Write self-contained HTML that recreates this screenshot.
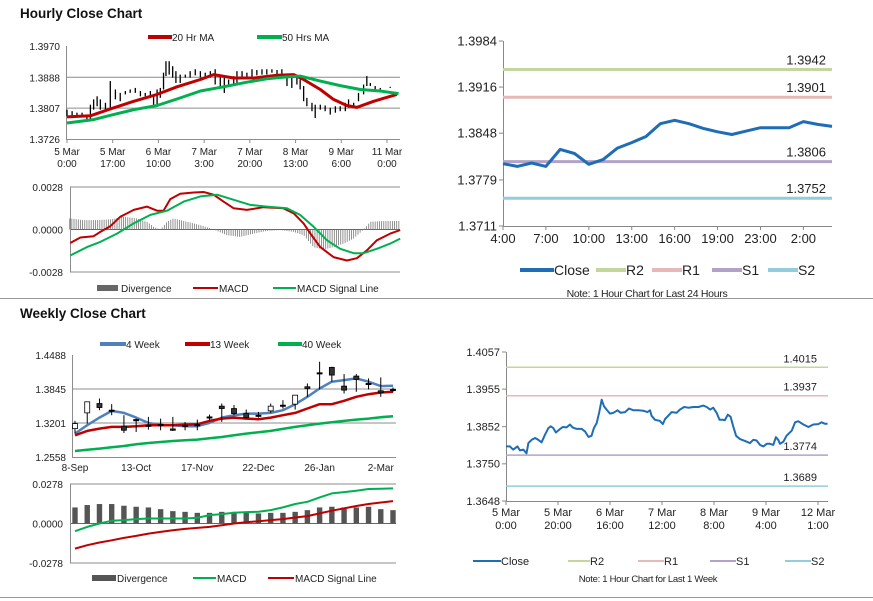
<!DOCTYPE html>
<html><head><meta charset="utf-8"><style>
html,body{margin:0;padding:0;background:#fff;}
svg{display:block;font-family:"Liberation Sans",sans-serif;}
</style></head><body>
<svg id="s" width="873" height="601" viewBox="0 0 873 601" xmlns="http://www.w3.org/2000/svg">
<text x="20" y="18" font-size="13.5" font-weight="bold" fill="#111">Hourly Close Chart</text>
<text x="20" y="318" font-size="13.5" font-weight="bold" fill="#111">Weekly Close Chart</text>
<line x1="0" y1="298.5" x2="873" y2="298.5" stroke="#999"/>
<line x1="0" y1="597.5" x2="873" y2="597.5" stroke="#999"/>
<g id="tl"></g>
<g id="tlm"></g>
<g id="tr"></g>
<g id="bl"></g>
<g id="blm"></g>
<g id="br"></g>
</svg>
<script>
// ---------- DATA ----------
// Hourly candles (hours since 5 Mar 0:00), high/low
const hcHours=[0,1.9,3.7,5.6,7.4,8.7,9.9,11.2,12.4,14.3,16.1,18,19.8,21.7,23.5,25.4,27.3,29.1,31,32.2,33.5,34.7,35.9,36.8,38,39.3,40.5,42.1,44,45.8,47.7,49.6,51.4,53.3,55.1,57,58.5,60.1,62,63.2,65.1,66.9,68.8,70.6,72.5,74.3,76.2,78.1,79.9,81.8,83.6,85.5,86.7,88,89.2,91.1,92.3,94.2,96,97.9,99.8,101.6,103.5,104.7,106.6,108.4,110.3,111.5,112.8,114.6,116.5,118.3,120.2,122.1];
const hcHigh=[1.3803,1.3799,1.3795,1.3795,1.3790,1.3816,1.3830,1.3838,1.3830,1.3821,1.3878,1.3856,1.3847,1.3852,1.3856,1.3860,1.3852,1.3847,1.3852,1.3843,1.3856,1.3860,1.3900,1.3930,1.3930,1.3917,1.3904,1.3895,1.3895,1.3904,1.3909,1.3904,1.3900,1.3904,1.3909,1.3895,1.3887,1.3882,1.3891,1.3904,1.3904,1.3900,1.3909,1.3907,1.3909,1.3909,1.3909,1.3907,1.3909,1.3895,1.3891,1.3895,1.3882,1.3865,1.3834,1.3821,1.3816,1.3816,1.3814,1.3808,1.3812,1.3812,1.3821,1.3830,1.3821,1.3847,1.3869,1.3891,1.3873,1.3865,1.3860,1.3860,1.3863,1.3860];
const hcLow=[1.3786,1.3786,1.3786,1.3784,1.3777,1.3773,1.3803,1.3812,1.3803,1.3803,1.3808,1.3830,1.3825,1.3843,1.3847,1.3847,1.3838,1.3838,1.3834,1.3812,1.3812,1.3834,1.3856,1.3891,1.3895,1.3887,1.3873,1.3873,1.3887,1.3887,1.3893,1.3887,1.3887,1.3887,1.3869,1.3860,1.3847,1.3865,1.3865,1.3869,1.3887,1.3887,1.3887,1.3893,1.3895,1.3895,1.3900,1.3895,1.3887,1.3865,1.3860,1.3869,1.3856,1.3825,1.3812,1.3799,1.3781,1.3803,1.3799,1.3790,1.3795,1.3799,1.3799,1.3808,1.3812,1.3825,1.3843,1.3865,1.3865,1.3856,1.3856,1.3860,1.3860,1.3860];
const ma20Hours=[0,8.7,16.1,24.8,33.5,40.9,49.6,54.5,62,69.4,78.1,84.3,88,94.2,99.1,104,107.8,114,122.7];
const ma20Vals=[1.3784,1.3787,1.3805,1.3825,1.3843,1.3863,1.3882,1.3895,1.3886,1.3886,1.3893,1.3895,1.3882,1.3856,1.3830,1.3814,1.3809,1.3825,1.3843];
const ma50Hours=[0,9.9,17.3,24.8,33.5,40.9,49.6,58.2,66.9,74.3,81.8,86.7,94.2,101.6,109.1,116.5,123.3];
const ma50Vals=[1.3768,1.3777,1.3790,1.3803,1.3814,1.3831,1.3852,1.3863,1.3875,1.3884,1.3889,1.3891,1.3878,1.3866,1.3856,1.3852,1.3845];
const hTickLabels=[["5 Mar","0:00"],["5 Mar","17:00"],["6 Mar","10:00"],["7 Mar","3:00"],["7 Mar","20:00"],["8 Mar","13:00"],["9 Mar","6:00"],["11 Mar","0:00"]];
const hPriceTicks=[1.3970,1.3888,1.3807,1.3726];
// Hourly MACD
const hMacdHours=[1.2,5,9.9,12.4,16.1,19.8,24.8,29.7,33.5,35.9,38.4,42.1,47.1,50.8,54.5,58.2,62,66.9,73.1,80.5,84.3,88,90.5,94.2,99.1,104.1,107.8,111.5,115.2,120.2,123.9];
const hMacdVals=[-0.00089,-0.00053,-0.00044,-0.00016,0.00022,0.00084,0.00129,0.00151,0.00124,0.00124,0.00200,0.00236,0.00244,0.00247,0.00229,0.00184,0.00140,0.00129,0.00147,0.00140,0.00107,0.00040,-0.00027,-0.00116,-0.00182,-0.00204,-0.00189,-0.00138,-0.00071,-0.00027,-0.00004];
const hSigHours=[1.2,7.4,12.4,18.6,24.8,31,37.2,43.4,49.6,55.8,62,68.2,74.3,81.8,86.7,91.7,96.7,101.6,106.6,110.3,115.2,120.2,123.9];
const hSigVals=[-0.00171,-0.00116,-0.00082,-0.00027,0.00040,0.00096,0.00124,0.00184,0.00218,0.00229,0.00196,0.00162,0.00151,0.00140,0.00096,0.00018,-0.00071,-0.00127,-0.00156,-0.00156,-0.00127,-0.00093,-0.00060];
const hDivHours=[1.2,6.2,11.2,16.1,21.1,26,29.7,32.2,34.7,37.2,39.6,44.6,49.6,54.5,59.5,64.4,69.4,74.3,79.3,84.3,88,91.7,95.4,99.1,102.8,106.6,110.3,112.8,117.7,123.3];
const hDivVals=[0.00073,0.00062,0.00062,0.00067,0.00084,0.00073,0.00051,0.00018,0,0.00051,0.00073,0.00051,0.00029,0,-0.00038,-0.00049,-0.00027,-0.00009,-0.00004,-0.00016,-0.00038,-0.00116,-0.00133,-0.00116,-0.00093,-0.00060,0,0.00051,0.00056,0.00056];
const hMacdTicks=[0.0028,0,-0.0028];
// 24h pivot chart
const dayLabels=["4:00","7:00","10:00","13:00","16:00","19:00","23:00","2:00"];
const dayClose=[1.3803,1.3799,1.3804,1.3799,1.3824,1.3818,1.3802,1.3809,1.3826,1.3834,1.3843,1.3862,1.3867,1.3862,1.3855,1.3850,1.3846,1.3851,1.3856,1.3856,1.3856,1.3865,1.3861,1.3858];
const dayLevelNames=["R2","R1","S1","S2"];
const dayLevels=[1.3942,1.3901,1.3806,1.3752];
const dayTicks=[1.3984,1.3916,1.3848,1.3779,1.3711];
// Weekly candles
const wkLabels=["8-Sep","13-Oct","17-Nov","22-Dec","26-Jan","2-Mar"];
const wkOpen=[1.3095,1.3393,1.3570,1.3444,1.3140,1.3266,1.3159,1.3178,1.3089,1.3159,1.3171,1.3317,1.3520,1.3475,1.3380,1.3349,1.3431,1.3539,1.3558,1.3887,1.4152,1.4254,1.3899,1.4089,1.3950,1.3811,1.3836];
const wkClose=[1.3190,1.3602,1.3494,1.3444,1.3064,1.3266,1.3159,1.3178,1.3064,1.3159,1.3171,1.3317,1.3475,1.3380,1.3304,1.3349,1.3520,1.3539,1.3728,1.3855,1.4152,1.4108,1.3823,1.4026,1.3950,1.3773,1.3836];
const wkHigh=[1.3241,1.3602,1.3665,1.3558,1.3349,1.3285,1.3317,1.3285,1.3317,1.3222,1.3266,1.3361,1.3570,1.3539,1.3456,1.3412,1.3570,1.3633,1.3728,1.3950,1.4361,1.4266,1.4127,1.4127,1.4045,1.4064,1.3874];
const wkLow=[1.3000,1.3190,1.3444,1.3349,1.3013,1.3032,1.3076,1.3064,1.3051,1.3064,1.3064,1.3254,1.3222,1.3349,1.3285,1.3304,1.3393,1.3475,1.3456,1.3697,1.3836,1.3982,1.3760,1.3792,1.3836,1.3697,1.3792];
const wk4=[1.3000,1.3159,1.3304,1.3431,1.3393,1.3304,1.3203,1.3159,1.3159,1.3140,1.3140,1.3203,1.3304,1.3349,1.3380,1.3380,1.3393,1.3444,1.3558,1.3697,1.3855,1.3982,1.4013,1.4045,1.3982,1.3899,1.3906];
const wk13=[1.2969,1.3051,1.3095,1.3127,1.3127,1.3140,1.3159,1.3159,1.3159,1.3171,1.3178,1.3241,1.3285,1.3304,1.3285,1.3273,1.3304,1.3349,1.3393,1.3475,1.3558,1.3558,1.3621,1.3697,1.3747,1.3779,1.3792];
const wk40=[1.2671,1.2697,1.2716,1.2741,1.2766,1.2798,1.2823,1.2842,1.2861,1.2874,1.2887,1.2912,1.2937,1.2969,1.3000,1.3026,1.3051,1.3089,1.3127,1.3159,1.3190,1.3216,1.3241,1.3266,1.3285,1.3311,1.3330];
const wkPriceTicks=[1.4488,1.3845,1.3201,1.2558];
const wkDiv=[0.0113,0.0130,0.0137,0.0137,0.0125,0.0118,0.0113,0.0101,0.0087,0.0082,0.0075,0.0075,0.0082,0.0082,0.0082,0.0071,0.0075,0.0075,0.0082,0.0094,0.0113,0.0118,0.0113,0.0113,0.0118,0.0101,0.0094];
const wkMacd=[-0.0054,-0.0024,0,0.0019,0.0024,0.0031,0.0035,0.0035,0.0035,0.0035,0.0040,0.0059,0.0066,0.0075,0.0080,0.0082,0.0094,0.0113,0.0137,0.0153,0.0184,0.0212,0.0221,0.0231,0.0243,0.0245,0.0247];
const wkSig=[-0.0177,-0.0153,-0.0134,-0.0118,-0.0101,-0.0087,-0.0071,-0.0059,-0.0047,-0.0038,-0.0031,-0.0024,-0.0012,0,0.0009,0.0016,0.0024,0.0031,0.0042,0.0052,0.0071,0.0090,0.0106,0.0123,0.0137,0.0148,0.0158];
const wkMacdTicks=[0.0278,0,-0.0278];
// 1 week pivot chart
const wkLineLabels=[["5 Mar","0:00"],["5 Mar","20:00"],["6 Mar","16:00"],["7 Mar","12:00"],["8 Mar","8:00"],["9 Mar","4:00"],["12 Mar","1:00"]];
const wkLineHours=[0,1.5,2.2,2.8,4.4,5.4,6.7,7.9,8.6,9.9,11.2,12.4,13.7,15,16.3,17.2,18.2,19.2,20.5,21.8,23.3,24.6,25.6,27.2,29.1,30.4,31.7,32.9,33.8,34.9,35.8,36.8,37.7,38.7,40,41.3,42.9,44.1,45.8,47.3,49,50.9,52.8,54.4,55.4,56,57.3,59.2,60.3,61.2,62.4,63.7,65.6,66.9,68.5,70.1,72.1,74,75.9,77.2,78.5,79.7,81,82.1,83.3,84.2,85.3,86.4,87.4,88.5,90,91.9,93.8,95.1,96.4,97.7,99,100.3,101.5,102.8,103.8,104.7,105.4,106.7,107.9,109.9,111.2,112.4,114.4,116.3,118.2,120.1,121.4,122.7,123.7];
const wkLineClose=[1.3798,1.3798,1.3793,1.3789,1.3798,1.3787,1.3789,1.3779,1.3807,1.3816,1.3821,1.3816,1.3809,1.3830,1.3848,1.3853,1.3848,1.3836,1.3844,1.3851,1.3850,1.3858,1.3850,1.3846,1.3846,1.3839,1.3824,1.3827,1.3848,1.3862,1.3890,1.3926,1.3908,1.3899,1.3888,1.3890,1.3897,1.3890,1.3892,1.3902,1.3897,1.3897,1.3896,1.3892,1.3897,1.3882,1.3871,1.3868,1.3859,1.3873,1.3882,1.3892,1.3890,1.3899,1.3906,1.3904,1.3906,1.3906,1.3910,1.3906,1.3899,1.3904,1.3890,1.3871,1.3871,1.3870,1.3885,1.3879,1.3853,1.3827,1.3818,1.3813,1.3807,1.3816,1.3814,1.3802,1.3798,1.3805,1.3805,1.3802,1.3823,1.3816,1.3805,1.3811,1.3827,1.3841,1.3864,1.3867,1.3858,1.3851,1.3858,1.3859,1.3864,1.3860,1.3860];
const wkLevelNames=["R2","R1","S1","S2"];
const wkLevels=[1.4015,1.3937,1.3774,1.3689];
const wkLineTicks=[1.4057,1.3955,1.3852,1.3750,1.3648];

// ---------- HELPERS ----------
const NS="http://www.w3.org/2000/svg";
function mk(parent,tag,attrs,text){const e=document.createElementNS(NS,tag);for(const k in attrs)e.setAttribute(k,attrs[k]);if(text!==undefined)e.textContent=text;parent.appendChild(e);return e;}
function lin(d0,d1,r0,r1){return v=>r0+(v-d0)*(r1-r0)/(d1-d0);}
function pts(xs,ys,fx,fy){return xs.map((x,i)=>fx(x).toFixed(1)+","+fy(ys[i]).toFixed(1)).join(" ");}
function interp(xs,ys,x){if(x<=xs[0])return ys[0];for(let i=1;i<xs.length;i++){if(x<=xs[i]){const t=(x-xs[i-1])/(xs[i]-xs[i-1]);return ys[i-1]+t*(ys[i]-ys[i-1]);}}return ys[ys.length-1];}
const RED="#c00000",GREEN="#00b050",BLUE="#4f81bd",CBLUE="#1f6db5";

// ---------- TOP LEFT: hourly price ----------
(function(){
const g=document.getElementById('tl');
const X=lin(0,119,67,387), Y=lin(1.3970,1.3726,46,139);
hPriceTicks.forEach((t,i)=>{
  const y=Y(t);
  if(i>0&&i<hPriceTicks.length-1){const l=mk(g,'line',{x1:66,x2:400,y1:y,y2:y,stroke:'#8c8c8c','stroke-width':1});
  
  }
  const tx=mk(g,'text',{x:60,y:y+4,'font-size':10,'text-anchor':'end',fill:'#222'},t.toFixed(4));
  
  
});
const ax=mk(g,'path',{d:'M66.5,46V139.5H400',fill:'none',stroke:'#8c8c8c'});


hTickLabels.forEach((lb,i)=>{
  const x=X(i*17);
  const tk=mk(g,'line',{x1:x,x2:x,y1:139,y2:143,stroke:'#8c8c8c'});
  
  
  const t=mk(g,'text',{x:x,y:155,'font-size':10,'text-anchor':'middle',fill:'#222'});
  
  
  mk(t,'tspan',{x:x,dy:0},lb[0]);mk(t,'tspan',{x:x,dy:12},lb[1]);
});
hcHours.forEach((h,i)=>{
  const b=mk(g,'line',{x1:X(h),x2:X(h),y1:Y(hcHigh[i]),y2:Y(hcLow[i]),stroke:'#000','stroke-width':1.3});
  
  
});
const m20=mk(g,'polyline',{points:pts(ma20Hours,ma20Vals,X,Y),fill:'none',stroke:RED,'stroke-width':3,'stroke-linejoin':'round'});


const m50=mk(g,'polyline',{points:pts(ma50Hours,ma50Vals,X,Y),fill:'none',stroke:GREEN,'stroke-width':3,'stroke-linejoin':'round'});


const l1=mk(g,'line',{x1:148,x2:172,y1:37,y2:37,stroke:RED,'stroke-width':4});


const t1=mk(g,'text',{x:172,y:41,'font-size':10,fill:'#222'},'20 Hr MA');


const l2=mk(g,'line',{x1:257,x2:282,y1:37,y2:37,stroke:GREEN,'stroke-width':4});


const t2=mk(g,'text',{x:282,y:41,'font-size':10,fill:'#222'},'50 Hrs MA');


})();

// ---------- TOP LEFT: hourly MACD ----------
(function(){
const g=document.getElementById('tlm');
const X=lin(0,119,67,387), Y=lin(0.0028,-0.0028,187,272);
hMacdTicks.forEach(t=>{
  const y=Y(t);
  const l=mk(g,'line',{x1:70,x2:400,y1:y,y2:y,stroke:t===0?'#666':'#8c8c8c'});
  
  
  const tx=mk(g,'text',{x:63,y:y+4,'font-size':10,'text-anchor':'end',fill:'#222'},t.toFixed(4));
  
  
});
const ax=mk(g,'line',{x1:70.5,x2:70.5,y1:187,y2:272,stroke:'#8c8c8c'});


for(let h=1;h<=124;h+=0.8){
  const v=interp(hDivHours,hDivVals,h);
  const b=mk(g,'line',{x1:X(h),x2:X(h),y1:Y(0),y2:Y(v),stroke:'#777','stroke-width':0.8});
  
  
}
const mc=mk(g,'polyline',{points:pts(hMacdHours,hMacdVals,X,Y),fill:'none',stroke:RED,'stroke-width':2,'stroke-linejoin':'round'});


const sg=mk(g,'polyline',{points:pts(hSigHours,hSigVals,X,Y),fill:'none',stroke:GREEN,'stroke-width':2,'stroke-linejoin':'round'});


const a=mk(g,'rect',{x:97,y:285,width:21,height:6,fill:'#666'});


const at=mk(g,'text',{x:121,y:292,'font-size':10,fill:'#222'},'Divergence');


const b=mk(g,'line',{x1:193,x2:218,y1:288,y2:288,stroke:RED,'stroke-width':2});


const bt=mk(g,'text',{x:219,y:292,'font-size':10,fill:'#222'},'MACD');


const c=mk(g,'line',{x1:273,x2:296,y1:288,y2:288,stroke:GREEN,'stroke-width':2});


const ct=mk(g,'text',{x:297,y:292,'font-size':10,fill:'#222'},'MACD Signal Line');


})();

// ---------- pivot chart builder ----------
function pivot(g,o){
  const Y=lin(o.ticks[0],o.ticks[o.ticks.length-1],o.y0,o.y1);
  o.ticks.forEach(t=>{
    const tx=mk(g,'text',{x:o.x0-6,y:Y(t)+o.fs*0.35,'font-size':o.fs,'text-anchor':'end',fill:'#222'},t.toFixed(4));
    
    
    const tk=mk(g,'line',{x1:o.x0-4,x2:o.x0,y1:Y(t),y2:Y(t),stroke:'#888'});
    
    
  });
  const ax=mk(g,'path',{d:`M${o.x0+0.5},${o.y0}V${o.y1+0.5}H${o.x1}`,fill:'none',stroke:'#888'});
  
  
  o.labels.forEach((lb,i)=>{
    const x=o.X(i*o.labStep);
    const tk=mk(g,'line',{x1:x,x2:x,y1:o.y1,y2:o.y1+4,stroke:'#888'});
    
    
    const t=mk(g,'text',{x:x,y:o.y1+o.fs+4,'font-size':o.fs,'text-anchor':'middle',fill:'#222'});
    
    
    if(Array.isArray(lb)){mk(t,'tspan',{x:x,dy:0},lb[0]);mk(t,'tspan',{x:x,dy:o.fs+2},lb[1]);}else t.textContent=lb;
  });
  const cols=["#c3d69b","#e6b9b8","#b3a2c7","#93cddd"];
  o.levels.forEach((lv,i)=>{
    const y=Y(lv);
    const l=mk(g,'line',{x1:o.x0,x2:o.x1,y1:y,y2:y,stroke:cols[i],'stroke-width':o.lw});
    
    
    const t=mk(g,'text',{x:o.lx,y:y-5,'font-size':o.fs,'text-anchor':'end',fill:'#222'},lv.toFixed(4));
    
    
  });
  const cl=mk(g,'polyline',{points:pts(o.xs,o.vals,o.X,Y),fill:'none',stroke:CBLUE,'stroke-width':o.cw,'stroke-linejoin':'round'});
  
  
  const names=["Close"].concat(o.levelNames), lcols=[CBLUE].concat(cols);
  names.forEach((n,i)=>{
    const L=o.leg[i];
    const s=mk(g,'line',{x1:L[0],x2:L[1],y1:o.ly,y2:o.ly,stroke:lcols[i],'stroke-width':o.legW});
    
    
    const t=mk(g,'text',{x:L[1],y:o.ly+o.lfs*0.37,'font-size':o.lfs,fill:'#222'},n);
    
    
  });
  const nt=mk(g,'text',{x:o.nx,y:o.ny,'font-size':o.nfs,'text-anchor':'middle',fill:'#222','letter-spacing':'-0.3'},o.note);
  
  
}
pivot(document.getElementById('tr'),{
  ticks:dayTicks,y0:41,y1:226,x0:503,x1:832,fs:13,X:lin(0,23,503,832),labels:dayLabels,labStep:3,
  levels:dayLevels,levelNames:dayLevelNames,lx:826,lw:3,xs:dayClose.map((_,i)=>i),vals:dayClose,cw:3,
  leg:[[520,554],[596,626],[652,682],[712,742],[768,798]],ly:270,legW:4,lfs:14,
  note:"Note: 1 Hour Chart for Last 24 Hours",nx:647,ny:297,nfs:10.5});
pivot(document.getElementById('br'),{
  ticks:wkLineTicks,y0:352,y1:501,x0:506,x1:828,fs:11,X:lin(0,120,506,818),labels:wkLineLabels,labStep:20,
  levels:wkLevels,levelNames:wkLevelNames,lx:817,lw:1.5,xs:wkLineHours,vals:wkLineClose,cw:2,
  leg:[[473,501],[568,590],[638,664],[710,736],[785,811]],ly:561,legW:2,lfs:11,
  note:"Note: 1 Hour Chart for Last 1 Week",nx:648,ny:582,nfs:9.5});

// ---------- BOTTOM LEFT: weekly price ----------
(function(){
const g=document.getElementById('bl');
const X=lin(0,26,75,393), Y=lin(1.4488,1.2558,355,457);
wkPriceTicks.forEach((t,i)=>{
  const y=Y(t);
  if(i>0&&i<wkPriceTicks.length-1){const l=mk(g,'line',{x1:72,x2:396,y1:y,y2:y,stroke:'#8c8c8c'});
  
  }
  const tx=mk(g,'text',{x:66,y:y+4,'font-size':10,'text-anchor':'end',fill:'#222'},t.toFixed(4));
  
  
});
const ax=mk(g,'path',{d:'M72.5,355V457.5H396',fill:'none',stroke:'#8c8c8c'});


wkLabels.forEach((lb,i)=>{
  const x=X(i*5);
  const t=mk(g,'text',{x:x,y:471,'font-size':10,'text-anchor':'middle',fill:'#222'},lb);
  
  
});
const w4=mk(g,'polyline',{points:pts(wk4.map((_,i)=>i),wk4,X,Y),fill:'none',stroke:BLUE,'stroke-width':2.5,'stroke-linejoin':'round'});


const w13=mk(g,'polyline',{points:pts(wk13.map((_,i)=>i),wk13,X,Y),fill:'none',stroke:RED,'stroke-width':2.5,'stroke-linejoin':'round'});


const w40=mk(g,'polyline',{points:pts(wk40.map((_,i)=>i),wk40,X,Y),fill:'none',stroke:GREEN,'stroke-width':2.5,'stroke-linejoin':'round'});


wkOpen.forEach((o,i)=>{
  const x=X(i),c=wkClose[i];
  const wk=mk(g,'line',{x1:x,x2:x,y1:Y(wkHigh[i]),y2:Y(wkLow[i]),stroke:'#000','stroke-width':1});
  
  
  const top=Y(Math.max(o,c)),h=Math.max(1.2,Math.abs(Y(o)-Y(c)));
  const r=mk(g,'rect',{x:x-2.5,y:top,width:5,height:h,fill:c>o?'#fff':(c<o?'#333':'#000'),stroke:'#000','stroke-width':0.8});
  
  
});
const legs=[[100,126,BLUE,'4 Week'],[185,210,RED,'13 Week'],[278,302,GREEN,'40 Week']];
legs.forEach(L=>{
  const s=mk(g,'line',{x1:L[0],x2:L[1],y1:344,y2:344,stroke:L[2],'stroke-width':4});
  
  
  const t=mk(g,'text',{x:L[1],y:348,'font-size':10,fill:'#222'},L[3]);
  
  
});
})();

// ---------- BOTTOM LEFT: weekly MACD ----------
(function(){
const g=document.getElementById('blm');
const X=lin(0,26,75,393), Y=lin(0.0278,-0.0278,484,563);
wkMacdTicks.forEach(t=>{
  const y=Y(t);
  const l=mk(g,'line',{x1:70,x2:396,y1:y,y2:y,stroke:t===0?'#666':'#8c8c8c'});
  
  
  const tx=mk(g,'text',{x:63,y:y+4,'font-size':10,'text-anchor':'end',fill:'#222'},t.toFixed(4));
  
  
});
const ax=mk(g,'line',{x1:70.5,x2:70.5,y1:484,y2:563,stroke:'#8c8c8c'});


wkDiv.forEach((v,i)=>{
  const b=mk(g,'rect',{x:X(i)-2.7,y:Y(v),width:5.4,height:Y(0)-Y(v),fill:'#555'});
  
  
});
const mc=mk(g,'polyline',{points:pts(wkMacd.map((_,i)=>i),wkMacd,X,Y),fill:'none',stroke:GREEN,'stroke-width':2,'stroke-linejoin':'round'});


const sg=mk(g,'polyline',{points:pts(wkSig.map((_,i)=>i),wkSig,X,Y),fill:'none',stroke:RED,'stroke-width':2,'stroke-linejoin':'round'});


const a=mk(g,'rect',{x:92,y:575,width:24,height:6,fill:'#555'});


const at=mk(g,'text',{x:117,y:582,'font-size':10,fill:'#222'},'Divergence');


const b=mk(g,'line',{x1:193,x2:216,y1:578,y2:578,stroke:GREEN,'stroke-width':2});


const bt=mk(g,'text',{x:217,y:582,'font-size':10,fill:'#222'},'MACD');


const c=mk(g,'line',{x1:268,x2:294,y1:578,y2:578,stroke:RED,'stroke-width':2});


const ct=mk(g,'text',{x:295,y:582,'font-size':10,fill:'#222'},'MACD Signal Line');


})();
</script>
</body></html>
